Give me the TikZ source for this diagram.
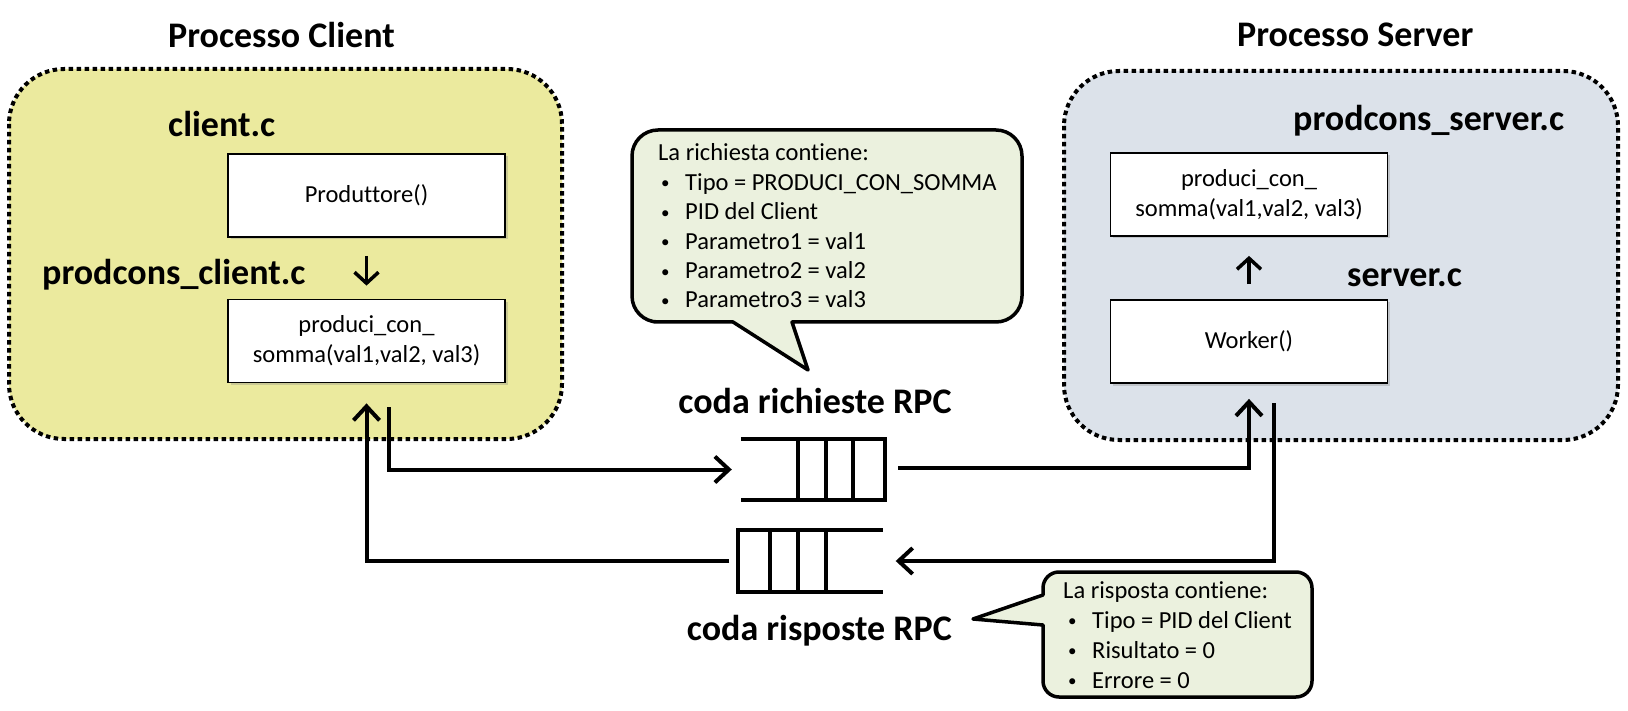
\documentclass[tikz,border=0pt]{standalone}
\usepackage{fontspec}
\setmainfont{Carlito}[Ligatures={NoCommon}]
\usetikzlibrary{arrows.meta,shadows}
\definecolor{regY}{RGB}{235,234,158}
\definecolor{regB}{RGB}{220,226,234}
\definecolor{callF}{RGB}{235,241,222}
\tikzset{
 region/.style={line width=4pt, dash pattern=on 4.5pt off 3.5pt, rounded corners=55pt},
 fbox/.style={draw, line width=1.8pt, fill=white, minimum width=277pt, minimum height=83pt, inner sep=0pt, align=center, font=\fontsize{24.5}{30}\selectfont, drop shadow={opacity=0.3, shadow xshift=2.5pt, shadow yshift=-2.5pt}},
 lbl/.style={font=\fontsize{36}{43}\selectfont\bfseries, inner sep=0pt},
 ctext/.style={font=\fontsize{24.5}{30}\selectfont, inner sep=0pt, anchor=base west},
 conn/.style={line width=4pt, -{Straight Barb[length=14pt,width=26pt]}},
 innerarrow/.style={line width=3.5pt, -{Straight Barb[length=11pt,width=24pt]}},
 qline/.style={line width=4pt},
 callout/.style={draw, line width=3.5pt, fill=callF, line join=round},
 qnode/.style={minimum width=144pt, minimum height=61pt, inner sep=0pt},
}
\newcommand{\bul}{\makebox[25pt][l]{\hspace{1pt}\raisebox{1.5pt}{\fontsize{17}{17}\selectfont\textbullet}}}
\begin{document}
\begin{tikzpicture}[x=1pt,y=-1pt]
\useasboundingbox (0,0) rectangle (1628,711);
% regions
\draw[region, fill=regY] (9,69) rectangle (562,439);
\draw[region, fill=regB] (1064,71) rectangle (1618,440);
% labels
\node[lbl, anchor=base west] (tclient) at (168,48) {Processo Client};
\node[lbl, anchor=base west] (tserver) at (1237,47) {Processo Server};
\node[lbl, anchor=base west] (lclient) at (168,137) {client.c};
\node[lbl, anchor=base west] (lpcc) at (42,285) {prodcons\_client.c};
\node[lbl, anchor=base west] (lpcs) at (1293,131) {prodcons\_server.c};
\node[lbl, anchor=base west] (lserver) at (1347,287) {server.c};
\node[lbl, anchor=base] (lq1) at (815,413) {coda richieste RPC};
\node[lbl, anchor=base east] (lq2) at (952,640) {coda risposte RPC};
% boxes
\node[fbox] (prod) at (366.5,195.5) {Produttore()};
\node[fbox] (pcc) at (366.5,341) {produci\_con\_\\somma(val1,val2, val3)};
\node[fbox] (pcs) at (1249,194.5) {produci\_con\_\\somma(val1,val2, val3)};
\node[fbox] (work) at (1249,341.5) {Worker()};
% inner arrows
\draw[innerarrow, shorten <=18pt, shorten >=13pt] (prod.south) -- (pcc.north);
\draw[innerarrow, shorten <=15pt, shorten >=19pt] (work.north) -- (pcs.south);
% queues
\node[qnode] (q1) at (813,469.5) {};
\draw[qline] (q1.north west) -- (q1.north east) -- (q1.south east) -- (q1.south west);
\foreach \xx in {798,826,853} \draw[qline] (\xx,439) -- (\xx,500);
\node[qnode] (q2) at (810.5,561) {};
\draw[qline] (q2.north east) -- (q2.north west) -- (q2.south west) -- (q2.south east);
\foreach \xx in {770,798,826} \draw[qline] (\xx,531) -- (\xx,591);
% connectors
\coordinate (cout) at (389,407);
\draw[conn] (cout) |- ([xshift=-9pt]q1.west);
\draw[conn] ([xshift=13pt,yshift=2pt]q1.east) -| ([yshift=-15pt]work.south);
\coordinate (sout) at (1274,403);
\draw[conn] (sout) |- ([xshift=13pt]q2.east);
\draw[conn] ([xshift=-9pt]q2.west) -| ([yshift=-20pt]pcc.south);
% request callout
\draw[callout] (680,322) -- (732,322) -- (733,322) -- (808,370) -- (792,322) -- (793,322) [rounded corners=26pt] -- (1022,322) -- (1022,130) -- (632,130) -- (632,322) -- cycle;
\node[ctext] (rq0) at (658,161) {La richiesta contiene:};
\node[ctext] (rq1) at (660,190.4) {\bul Tipo = PRODUCI\_CON\_SOMMA};
\node[ctext] (rq2) at (660,219.8) {\bul PID del Client};
\node[ctext] (rq3) at (660,249.2) {\bul Parametro1 = val1};
\node[ctext] (rq4) at (660,278.6) {\bul Parametro2 = val2};
\node[ctext] (rq5) at (660,308) {\bul Parametro3 = val3};
% response callout
\draw[callout] (1043,660) -- (1043,626) -- (1043,625) -- (973,619) -- (1043,595) -- (1043,594) [rounded corners=16pt] -- (1043,572) -- (1312,572) -- (1312,697) -- (1043,697) -- cycle;
\node[ctext] (rs0) at (1063,598) {La risposta contiene:};
\node[ctext] (rs1) at (1067,628) {\bul Tipo = PID del Client};
\node[ctext] (rs2) at (1067,658) {\bul Risultato = 0};
\node[ctext] (rs3) at (1067,688) {\bul Errore = 0};
\end{tikzpicture}
\end{document}
